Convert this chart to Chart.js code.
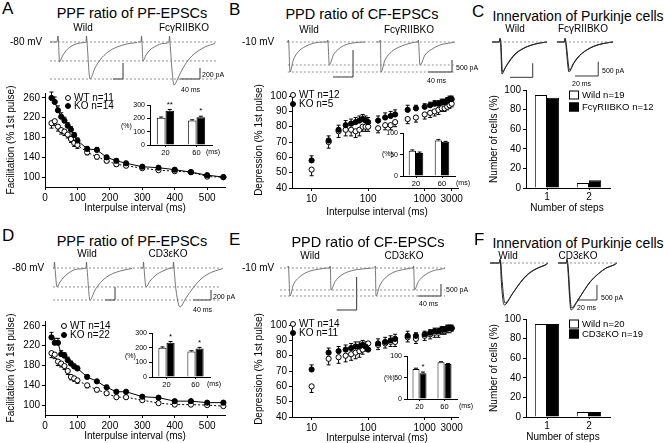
<!DOCTYPE html>
<html>
<head>
<meta charset="utf-8">
<script src="https://cdn.jsdelivr.net/npm/chart.js@4.4.0/dist/chart.umd.min.js"></script>
<style>
  body { margin: 0; width: 664px; height: 443px; position: relative; overflow: hidden; background: #fff;
         font-family: "Liberation Sans", Arial, Helvetica, sans-serif; }
  canvas { position: absolute; }
  .t { position: absolute; white-space: nowrap; color: #000; line-height: 1; }
  .m { position: absolute; border: 1px solid #000; box-sizing: border-box; transform: translate(-50%, -50%); }
</style>
</head>
<body>
<script>
// ---- PPF (A, D) ----
const ppfIntervals = [20, 30, 40, 50, 60, 70, 80, 90, 100, 130, 160, 190, 220, 250, 300, 350, 400, 450, 500, 550];
const ppfTicksX = [0, 100, 200, 300, 400, 500];
const ppfTicksY = [100, 140, 180, 220, 260];
const ppfKoA = [260, 252, 235, 222, 214, 204, 196, 185, 174, 157, 155, 140, 133, 128, 121, 119, 115, 110, 104, 100];
const ppfKoErrA = [12, 10, 9, 8, 7, 6, 6, 5, 5, 5, 5, 4, 4, 3, 3, 3, 3, 3, 3, 3];
const ppfWtA = [209, 213, 202, 195, 192, 186, 177, 169, 165, 150, 141, 133, 126, 123, 118, 114, 112, 110, 101, 100];
const ppfWtErrA = [10, 9, 9, 8, 8, 7, 7, 7, 7, 5, 4, 4, 4, 3, 3, 3, 3, 3, 3, 3];
const ppfKoD = [237, 226, 226, 203, 200, 191, 184, 178, 174, 157, 148, 136, 127, 127, 117, 115, 108, 108, 105, 105];
const ppfKoErrD = [10, 9, 9, 7, 6, 6, 5, 5, 5, 4, 4, 4, 3, 3, 3, 3, 3, 3, 3, 3];
const ppfWtD = [205, 202, 188, 184, 179, 169, 157, 154, 150, 140, 131, 124, 116, 116, 110, 104, 101, 101, 100, 98];
const ppfWtErrD = [9, 8, 8, 7, 7, 7, 6, 6, 6, 5, 4, 4, 3, 3, 3, 3, 3, 3, 3, 3];

// ---- PPD (B, E) ----
const ppdIntervals = [10, 20, 30, 40, 50, 60, 70, 80, 90, 100, 150, 200, 250, 300, 500, 700, 1000, 1250, 1500, 1750, 2000, 2250, 2500, 2750, 3000];
const ppdTicksX = [10, 100, 1000, 3000];
const ppdTicksY = [40, 50, 60, 70, 80, 90, 100];
const ppdKoB = [58, 71, 78, 81, 82, 83, 84, 85, 84, 83, 84, 86, 87, 88, 91, 92, 93, 94, 95, 95, 96, 96, 97, 98, 98];
const ppdWtB = [52, 70, 77, 78, 78, 77, 78, 80, 80, 80, 79, 81, 81, 83, 85, 86, 88, 89, 90, 91, 92, 92, 93, 94, 95];
const ppdKoE = [71, 82, 83, 84, 85, 86, 86, 87, 86, 84, 88, 89, 90, 91, 93, 93, 94, 95, 96, 96, 97, 97, 98, 98, 98];
const ppdWtE = [60, 78, 79, 80, 81, 82, 83, 84, 86, 88, 87, 88, 89, 89, 92, 91, 93, 94, 95, 95, 96, 96, 97, 97, 98];
const ppdKoErr = [3, 3, 3, 3, 3, 3, 3, 3, 3, 3, 3, 3, 3, 3, 3, 2, 2, 2, 2, 2, 2, 2, 2, 2, 2];
const ppdWtErr = [4, 4, 4, 4, 4, 4, 4, 3, 3, 3, 3, 3, 3, 3, 3, 3, 3, 3, 3, 3, 2, 2, 2, 2, 2];

// ---- insets (20 / 60 ms) ----
const insLabels = ['20', '60'];
const insWtA = [205, 185], insKoA = [258, 210], insErrWtA = [6, 5], insErrKoA = [10, 7];
const insWtD = [200, 175], insKoD = [235, 196], insErrWtD = [6, 5], insErrKoD = [8, 7];
const insWtB = [59, 83], insKoB = [54, 80], insErrWtB = [2, 2], insErrKoB = [2, 1];
const insWtE = [70, 86], insKoE = [60, 82], insErrWtE = [2, 1], insErrKoE = [3, 1];

// ---- innervation (C, F) ----
const stepLabels = ['1', '2'];
const cellTicks = [0, 20, 40, 60, 80, 100];
const innWtC = [95, 5], innKoC = [92, 8];
const innWtF = [95, 5], innKoF = [95, 5];

// ---- example traces [ms, pA] ----
const trA_wt = [[10,0],[24,0],[26,109],[27,0],[29,-364],[34,-273],[40,-182],[50,-91],[62,-36],[80,-9],[82,0],[83,109],[84,0],[90,-673],[100,-473],[110,-327],[126,-182],[144,-91],[164,-36],[184,-9]];
const trA_ko = [[186,0],[192,0],[193,109],[194,0],[196,-345],[202,-236],[210,-145],[222,-73],[236,-27],[248,0],[249,109],[250,0],[254,-509],[258,-782],[266,-655],[276,-473],[290,-291],[306,-164],[322,-82],[340,-27]];
const trA_levels = [0, -345, -673];
const trA_bars = [[[136,-673],[156,-673],[156,-382]], [[270,-673],[310,-673],[310,-473]]];

const trD_wt = [[16,0],[18,0],[19,109],[20,0],[24,-345],[30,-255],[38,-164],[50,-73],[66,-18],[82,0],[83,109],[84,0],[90,-582],[100,-400],[114,-236],[130,-127],[150,-55],[174,-9]];
const trD_ko = [[190,0],[196,0],[197,109],[198,0],[202,-345],[210,-236],[222,-127],[236,-55],[254,0],[256,0],[257,109],[258,0],[262,-400],[270,-709],[282,-545],[296,-364],[310,-218],[326,-109],[346,-36],[356,-10]];
const trD_levels = [0, -345, -582];
const trD_bars = [[[120,-582],[140,-582],[140,-345]], [[296,-582],[332,-582],[332,-400]]];

const trB_wt = [[11,0],[13,0],[13.8,83],[14.5,0],[16.7,-1250],[22.2,-750],[30.5,-404],[41.7,-196],[55.5,-54],[75,0],[79,0],[79.5,83],[80,0],[82.2,-958],[88.9,-542],[97.2,-304],[108.3,-125],[125,-29],[141.7,0]];
const trB_ko = [[161,0],[166,0],[167,83],[167.5,0],[168.3,-1250],[175,-750],[186,-404],[200,-196],[216.7,-54],[227.8,0],[230,0],[230.5,83],[231,0],[233.3,-958],[241.7,-542],[252.8,-304],[266.7,-125],[286,-29],[291.7,0]];
const trB_levels = [0, -958, -1250];
const trB_bars = [[[88.3,-1458],[121.7,-1458],[121.7,-333]], [[246.7,-1250],[286.7,-1250],[286.7,-750]]];

const trE_wt = [[13.3,0],[13.8,83],[14.3,0],[16.7,-1167],[22.2,-708],[33.3,-361],[47.2,-154],[63.9,-54],[80.5,0],[83,0],[83.5,83],[84,0],[85,-917],[91.7,-570],[102.8,-292],[119.5,-113],[141.7,-29],[152.8,0]];
const trE_ko = [[158,0],[158.5,83],[159,0],[160,-1167],[166.7,-708],[177.8,-361],[191.7,-154],[208.3,-54],[219.5,0],[222,0],[222.5,83],[223,0],[224,-917],[230.5,-570],[241.7,-292],[255.5,-113],[272.2,-29],[275,0]];
const trE_levels = [0, -917, -1167];
const trE_bars = [[[94.5,-1750],[127.8,-1750],[127.8,-375]], [[230,-1167],[268.3,-1167],[268.3,-667]]];

const trC_wt = [[3.5,0],[10,0],[10.4,143],[10.9,0],[12.2,-1143],[14.8,-928],[19.1,-643],[23.5,-428],[29.6,-250],[36.5,-125],[45.2,-36],[51.3,0]];
const trC_wt2 = [[3.5,0],[10,0],[10.6,100],[11.2,0],[12.6,-1071],[15.5,-890],[20,-620],[24.5,-410],[31,-230],[38,-110],[46,-30],[51.3,0]];
const trC_ko = [[60,0],[66.5,0],[67,143],[67.5,0],[70.5,-1071],[74,-786],[78.3,-536],[84.4,-321],[91.4,-161],[100,-54],[108.8,0]];
const trC_ko2 = [[60,0],[66.5,0],[67.2,100],[67.8,0],[71,-1000],[75,-740],[79.5,-500],[85.5,-300],[92.5,-150],[101,-50],[108.8,0]];
const trC_bars = [[[19.1,-1261],[38.9,-1261],[38.9,-760]], [[75.7,-1214],[95.9,-1214],[95.9,-703]]];

const trF_wt = [[1.7,0],[10,0],[10.4,143],[10.9,0],[11.5,-600],[14.2,-1500],[20.6,-1143],[26.4,-786],[33.7,-428],[42.4,-189],[49.6,-71],[52,0]];
const trF_wt2 = [[1.7,0],[10,0],[10.6,100],[11.2,0],[12,-500],[14.8,-1430],[21.5,-1080],[27.5,-740],[35,-400],[44,-170],[50.5,-60],[52,0]];
const trF_ko = [[60.9,0],[68.3,0],[68.7,143],[69.1,0],[72.2,-1678],[77.4,-1393],[82.7,-1036],[88.7,-678],[95.7,-393],[102.7,-178],[109.6,-71],[112,0]];
const trF_ko2 = [[60.9,0],[68.3,0],[68.9,100],[69.4,0],[72.6,-1600],[78,-1330],[83.5,-990],[89.5,-650],[96.5,-370],[103.5,-165],[110,-60],[112,0]];
const trF_bars = [[[77.4,-1321],[94.8,-1321],[94.8,-786]]];

const FONT = '"Liberation Sans", Arial, Helvetica, sans-serif';

function mk(l, t, w, h) {
  const c = document.createElement('canvas');
  c.width = w; c.height = h;
  c.style.left = l + 'px'; c.style.top = t + 'px';
  c.style.width = w + 'px'; c.style.height = h + 'px';
  document.body.appendChild(c);
  return c;
}

// text: x = left edge (or centre if c), y = vertical centre
function txt(s, x, y, size, c, rot) {
  const d = document.createElement('div');
  d.className = 't';
  d.textContent = s;
  d.style.left = x + 'px'; d.style.top = y + 'px';
  d.style.fontSize = size + 'px';
  d.style.transform = rot ? 'translate(-50%,-50%) rotate(-90deg)' : (c ? 'translate(-50%,-50%)' : 'translateY(-50%)');
  document.body.appendChild(d);
}

function marker(x, y, filled, square) {
  const d = document.createElement('div');
  d.className = 'm';
  d.style.left = x + 'px'; d.style.top = y + 'px';
  d.style.width = (square ? 10 : 6) + 'px';
  d.style.height = (square ? 9 : 6) + 'px';
  d.style.borderRadius = square ? '0' : '50%';
  d.style.background = filled ? '#000' : '#fff';
  document.body.appendChild(d);
}

// one-sided error bars + significance marks
const errBars = {
  id: 'errBars',
  beforeDatasetsDraw(chart) {
    const ctx = chart.ctx;
    chart.data.datasets.forEach((ds, i) => {
      if (!ds.err) return;
      const meta = chart.getDatasetMeta(i);
      const ys = chart.scales[meta.yAxisID];
      ctx.save();
      ctx.strokeStyle = '#000';
      ctx.lineWidth = 1;
      meta.data.forEach((el, j) => {
        const raw = ds.data[j];
        const v = typeof raw === 'number' ? raw : raw.y;
        const y0 = ys.getPixelForValue(v);
        const y1 = ys.getPixelForValue(v + ds.errDir * ds.err[j]);
        const cw = ds.capW || 2;
        ctx.beginPath();
        ctx.moveTo(el.x, y0); ctx.lineTo(el.x, y1);
        ctx.moveTo(el.x - cw, y1); ctx.lineTo(el.x + cw, y1);
        ctx.stroke();
        if (ds.sig && ds.sig[j]) {
          ctx.fillStyle = '#000';
          ctx.font = '8px ' + FONT;
          ctx.textAlign = 'center';
          ctx.textBaseline = 'bottom';
          ctx.fillText(ds.sig[j], el.x, y1 - 1);
        }
      });
      ctx.restore();
    });
  }
};

function axis(ticksArr, min, max, size, w, h, type) {
  return {
    type: type || 'linear', min, max,
    afterBuildTicks: s => { s.ticks = ticksArr.map(v => ({ value: v })); },
    afterFit: s => { if (w != null) s.width = w; if (h != null) s.height = h; },
    ticks: { color: '#000', font: { family: FONT, size }, padding: 2, maxRotation: 0, autoSkip: false, callback: v => String(v) },
    grid: { display: true, drawOnChartArea: false, drawTicks: true, tickLength: 3, color: '#000' },
    border: { display: true, color: '#000', width: 1 }
  };
}

function catAxis(size, h) {
  return {
    type: 'category',
    afterFit: s => { s.height = h; },
    ticks: { color: '#000', font: { family: FONT, size }, padding: 1, maxRotation: 0 },
    grid: { display: true, drawOnChartArea: false, drawTicks: true, tickLength: 2, color: '#000', offset: false },
    border: { display: true, color: '#000', width: 1 }
  };
}

const base = (pad) => ({
  responsive: false, animation: false, events: [],
  layout: { padding: pad },
  plugins: { legend: { display: false }, tooltip: { enabled: false } }
});

function pts(xs, ys) { return xs.map((x, i) => ({ x, y: ys[i] })); }

function ppfChart(top, ko, koErr, wt, wtErr) {
  new Chart(mk(20, top, 210, 116), {
    type: 'line',
    data: { datasets: [
      { data: pts(ppfIntervals, ko), err: koErr, errDir: 1, borderColor: '#000', borderWidth: 1,
        pointRadius: 2.6, pointBackgroundColor: '#000', pointBorderColor: '#000', clip: false },
      { data: pts(ppfIntervals, wt), err: wtErr, errDir: -1, borderColor: '#000', borderWidth: 1, borderDash: [2, 2],
        pointRadius: 2.6, pointBackgroundColor: '#fff', pointBorderColor: '#000', pointBorderWidth: 1, clip: false }
    ] },
    options: { ...base({ top: 8, right: 2, left: 0, bottom: 0 }),
      scales: { x: axis(ppfTicksX, 0, 555, 10, null, 14), y: axis(ppfTicksY, 80, 270, 10, 25, null) } },
    plugins: [errBars]
  });
}

function ppdChart(top, ko, wt) {
  new Chart(mk(262, top, 203, 117), {
    type: 'scatter',
    data: { datasets: [
      { data: pts(ppdIntervals, ko), err: ppdKoErr, errDir: 1, pointRadius: 2.6,
        pointBackgroundColor: '#000', pointBorderColor: '#000', clip: false },
      { data: pts(ppdIntervals, wt), err: ppdWtErr, errDir: -1, pointRadius: 2.6,
        pointBackgroundColor: '#fff', pointBorderColor: '#000', pointBorderWidth: 1, clip: false }
    ] },
    options: { ...base({ top: 7, right: 5, left: 0, bottom: 0 }),
      scales: { x: axis(ppdTicksX, 4.5, 4000, 10, null, 14, 'logarithmic'), y: axis(ppdTicksY, 40, 102, 10, 30, null) } },
    plugins: [errBars]
  });
}

function inset(l, t, w, h, wt, ko, ewt, eko, sig, yTicks, ymax) {
  new Chart(mk(l, t, w, h), {
    type: 'bar',
    data: { labels: insLabels, datasets: [
      { data: wt, err: ewt, errDir: 1, capW: 2, backgroundColor: '#fff', borderColor: '#000', borderWidth: 1 },
      { data: ko, err: eko, errDir: 1, capW: 2, sig: sig, backgroundColor: '#000', borderColor: '#000', borderWidth: 1 }
    ] },
    options: { ...base({ top: 4, right: 2, left: 0, bottom: 0 }),
      datasets: { bar: { categoryPercentage: 0.56, barPercentage: 1 } },
      scales: { x: catAxis(7.5, 10), y: axis(yTicks, 0, ymax, 7, 18, null) } },
    plugins: [errBars]
  });
}

function innChart(top, wt, ko) {
  new Chart(mk(500, top, 112, 120), {
    type: 'bar',
    data: { labels: stepLabels, datasets: [
      { data: wt, backgroundColor: '#fff', borderColor: '#000', borderWidth: 1 },
      { data: ko, backgroundColor: '#000', borderColor: '#000', borderWidth: 1 }
    ] },
    options: { ...base({ top: 8, right: 2, left: 0, bottom: 0 }),
      datasets: { bar: { categoryPercentage: 0.58, barPercentage: 1 } },
      scales: { x: catAxis(10, 14), y: axis(cellTicks, 0, 100, 10, 26, null) } }
  });
}

function traceChart(l, t, w, h, xr, yr, traces, levels, spans, bars, col, lw) {
  const ds = [];
  levels.forEach(v => spans.forEach(sp => ds.push({ data: sp.map(x => ({ x, y: v })),
    borderColor: '#777', borderWidth: 0.8, borderDash: [2, 2], pointRadius: 0 })));
  traces.forEach(tr => ds.push({ data: tr.map(p => ({ x: p[0], y: p[1] })),
    borderColor: col, borderWidth: lw, pointRadius: 0, cubicInterpolationMode: 'monotone' }));
  bars.forEach(b => ds.push({ data: b.map(p => ({ x: p[0], y: p[1] })),
    borderColor: '#000', borderWidth: 0.8, pointRadius: 0 }));
  new Chart(mk(l, t, w, h), {
    type: 'line', data: { datasets: ds },
    options: { ...base(0), scales: {
      x: { type: 'linear', display: false, min: xr[0], max: xr[1] },
      y: { type: 'linear', display: false, min: yr[0], max: yr[1] } } }
  });
}

// ---------- traces ----------
traceChart(45, 30, 175, 65, [0, 350], [-964, 218], [trA_wt, trA_ko], trA_levels, [[10, 345]], trA_bars, '#555', 0.8);
traceChart(45, 256, 180, 65, [0, 360], [-964, 218], [trD_wt, trD_ko], trD_levels, [[16, 350]], trD_bars, '#555', 0.8);
traceChart(280, 30, 180, 55, [0, 300], [-1792, 500], [trB_wt, trB_ko], trB_levels, [[13, 292]], trB_bars, '#555', 0.8);
traceChart(275, 256, 185, 55, [-8.3, 300], [-1792, 500], [trE_wt, trE_ko], trE_levels, [[0, 275]], trE_bars, '#555', 0.8);
traceChart(488, 33, 130, 50, [0, 113.1], [-1464, 321], [trC_wt, trC_wt2, trC_ko, trC_ko2], [0], [[3.5, 51.3], [60, 108.8]], trC_bars, '#222', 1);
traceChart(488, 255, 130, 60, [0, 113.1], [-1857, 286], [trF_wt, trF_wt2, trF_ko, trF_ko2], [0], [[1.7, 52], [60.9, 112]], trF_bars, '#222', 1);

// ---------- main charts ----------
ppfChart(85, ppfKoA, ppfKoErrA, ppfWtA, ppfWtErrA);
ppfChart(313, ppfKoD, ppfKoErrD, ppfWtD, ppfWtErrD);
ppdChart(85, ppdKoB, ppdWtB);
ppdChart(314, ppdKoE, ppdWtE);
innChart(82, innWtC, innKoC);
innChart(311, innWtF, innKoF);

// ---------- insets ----------
inset(132, 99, 82, 56, insWtA, insKoA, insErrWtA, insErrKoA, ['**', '*'], [0, 100, 200, 300], 300);
inset(134, 327, 78, 60, insWtD, insKoD, insErrWtD, insErrKoD, ['*', '*'], [0, 100, 200, 300], 300);
inset(385, 127, 72, 59, insWtB, insKoB, insErrWtB, insErrKoB, null, [0, 50, 100], 100);
inset(389, 350, 70, 59, insWtE, insKoE, insErrWtE, insErrKoE, ['*', ''], [0, 50, 100], 100);

// ---------- text ----------
txt('A', 2, 8, 17); txt('B', 229, 9, 17); txt('C', 472, 11, 17);
txt('D', 2, 235, 17); txt('E', 229, 239, 17); txt('F', 474, 239, 17);

txt('PPF ratio of PF-EPSCs', 132, 13, 14.5, true);
txt('PPD ratio of CF-EPSCs', 362, 14, 14.5, true);
txt('Innervation of Purkinje cells', 578, 16, 14, true);
txt('PPF ratio of PF-EPSCs', 132, 241, 14.5, true);
txt('PPD ratio of CF-EPSCs', 368, 242, 14.5, true);
txt('Innervation of Purkinje cells', 578, 243, 14, true);

txt('Wild', 83, 28, 10, true); txt('FcγRIIBKO', 184, 28, 10, true);
txt('Wild', 309, 30, 10, true); txt('FcγRIIBKO', 409, 30, 10, true);
txt('Wild', 515, 29, 10, true); txt('FcγRIIBKO', 583, 29, 10, true);
txt('Wild', 87, 254, 10, true); txt('CD3εKO', 168, 254, 10, true);
txt('Wild', 310, 256, 10, true); txt('CD3εKO', 404, 256, 10, true);
txt('Wild', 508, 256, 10, true); txt('CD3εKO', 578, 256, 10, true);

txt('-80 mV', 10, 42, 10); txt('-10 mV', 242, 42, 10);
txt('-80 mV', 12, 268, 10); txt('-10 mV', 242, 268, 10);

txt('200 pA', 202, 74, 7); txt('40 ms', 181, 89, 7);
txt('500 pA', 456, 67, 7); txt('40 ms', 427, 80, 7);
txt('500 pA', 602, 70, 7); txt('20 ms', 572, 83, 7);
txt('200 pA', 213, 296, 7); txt('40 ms', 193, 309, 7);
txt('500 pA', 446, 289, 7); txt('40 ms', 419, 303, 7);
txt('500 pA', 601, 297, 7); txt('20 ms', 577, 307, 7);

marker(68, 98, false); txt('WT n=11', 74, 98, 10);
marker(68, 106, true); txt('KO n=14', 74, 106, 10);
marker(293, 95, false); txt('WT n=12', 299, 95, 10);
marker(293, 104, true); txt('KO n=5', 299, 104, 10);
marker(64, 326, false); txt('WT n=14', 70, 326, 10);
marker(64, 335, true); txt('KO n=22', 70, 335, 10);
marker(293, 324, false); txt('WT n=14', 299, 324, 10);
marker(293, 333, true); txt('KO n=11', 299, 333, 10);
marker(574, 95, false, true); txt('Wild n=19', 582, 95, 9.5);
marker(574, 107, true, true); txt('FcγRIIBKO n=12', 582, 107, 9.5);
marker(574, 324, false, true); txt('Wild n=20', 582, 324, 9.5);
marker(574, 334, true, true); txt('CD3εKO n=19', 582, 334, 9.5);

txt('Facilitation (% 1st pulse)', 11, 140, 10, true, true);
txt('Interpulse interval (ms)', 135, 208, 10, true);
txt('Depression (% 1st pulse)', 259, 140, 10, true, true);
txt('Interpulse interval (ms)', 377, 212, 10, true);
txt('Number of cells (%)', 494, 139, 10, true, true);
txt('Number of steps', 567, 208, 10, true);
txt('Facilitation (% 1st pulse)', 11, 368, 10, true, true);
txt('Interpulse interval (ms)', 135, 436, 10, true);
txt('Depression (% 1st pulse)', 259, 369, 10, true, true);
txt('Interpulse interval (ms)', 377, 438, 10, true);
txt('Number of cells (%)', 494, 368, 10, true, true);
txt('Number of steps', 563, 437, 10, true);

txt('(%)', 121, 125, 7); txt('(ms)', 206, 151, 7);
txt('(%)', 382, 153, 7); txt('(ms)', 456, 182, 7);
txt('(%)', 125, 355, 7); txt('(ms)', 207, 383, 7);
txt('(%)', 384, 377, 7); txt('(ms)', 459, 405, 7);
</script>
</body>
</html>
